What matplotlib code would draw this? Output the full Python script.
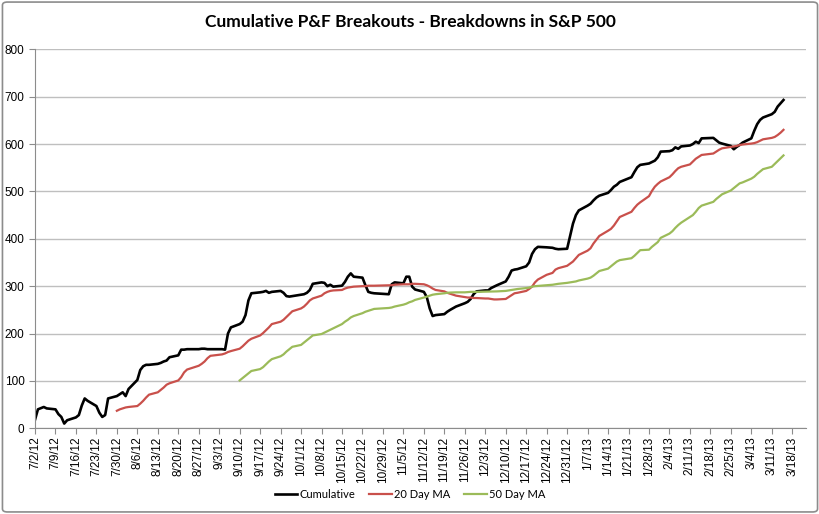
import matplotlib
matplotlib.use("Agg")
import matplotlib.pyplot as plt
from matplotlib.patches import FancyBboxPatch
from matplotlib.ticker import FuncFormatter
import matplotlib.dates as mdates
import pandas as pd

# trading days shown on the chart, by month
months = [
    (2012, 7, [2, 3, 5, 6, 9, 10, 11, 12, 13, 16, 17, 18, 19, 20, 23, 24, 25, 26, 27, 30, 31]),
    (2012, 8, [1, 2, 3, 6, 7, 8, 9, 10, 13, 14, 15, 16, 17, 20, 21, 22, 23, 24, 27, 28, 29, 30, 31]),
    (2012, 9, [4, 5, 6, 7, 10, 11, 12, 13, 14, 17, 18, 19, 20, 21, 24, 25, 26, 27, 28]),
    (2012, 10, [1, 2, 3, 4, 5, 8, 9, 10, 11, 12, 15, 16, 17, 18, 19, 22, 23, 24, 25, 26, 31]),
    (2012, 11, [1, 2, 5, 6, 7, 8, 9, 12, 13, 14, 15, 16, 19, 20, 21, 23, 26, 27, 28, 29, 30]),
    (2012, 12, [3, 4, 5, 6, 7, 10, 11, 12, 13, 14, 17, 18, 19, 20, 21, 24, 26, 27, 28, 31]),
    (2013, 1, [2, 3, 4, 7, 8, 9, 10, 11, 14, 15, 16, 17, 18, 22, 23, 24, 25, 28, 29, 30, 31]),
    (2013, 2, [1, 4, 5, 6, 7, 8, 11, 12, 13, 14, 15, 19, 20, 21, 22, 25, 26, 27, 28]),
    (2013, 3, [1, 4, 5, 6, 7, 8, 11, 12, 13, 14, 15]),
]
dates = [pd.Timestamp(y, m, d) for y, m, days in months for d in days]

cumulative = [
    18, 40, 45, 42, 40, 30, 24, 10, 17, 23, 28, 48, 63, 58, 47, 33, 24, 28, 63, 68, 72,
    76, 68, 83, 102, 123, 131, 134, 134, 136, 138, 141, 143, 150, 154, 166, 166, 167, 167, 167, 168, 168, 167, 167,
    167, 166, 200, 213, 220, 225, 239, 270, 285, 287, 288, 290, 286, 288, 290, 286, 279, 278, 279,
    282, 283, 286, 292, 305, 308, 307, 300, 303, 299, 301, 309, 320, 327, 320, 318, 302, 288, 286, 285, 283,
    304, 308, 306, 320, 320, 299, 293, 288, 277, 253, 237, 239, 241, 246, 250, 257, 264, 267, 273, 283, 289,
    291, 291, 296, 299, 302, 310, 320, 333, 335, 336, 342, 350, 368, 378, 383, 382, 381, 379, 378, 379,
    432, 450, 460, 470, 474, 481, 487, 491, 497, 503, 510, 514, 520, 530, 541, 551, 556, 559, 562, 565, 572,
    584, 585, 587, 593, 590, 595, 597, 600, 605, 602, 612, 613, 608, 603, 601, 596, 589, 594, 598,
    603, 612, 628, 642, 651, 656, 663, 668, 679, 686, 693,
]

# 20 day MA starts 7/30/12
ma20 = [
    37, 40,
    42, 44, 45, 47, 52, 58, 65, 71, 76, 81, 86, 92, 95, 101, 108, 118, 124, 126, 132, 136, 141, 148, 153,
    156, 158, 161, 163, 168, 173, 179, 185, 189, 196, 201, 207, 213, 220, 225, 229, 235, 241, 247,
    253, 257, 263, 270, 274, 280, 285, 288, 290, 291, 292, 295, 297, 298, 299, 300, 300, 301, 301, 301, 302,
    302, 303, 304, 304, 304, 305, 305, 304, 302, 299, 295, 292, 289, 286, 284, 280, 277, 276, 276, 275, 275,
    274, 274, 273, 272, 272, 273, 277, 281, 285, 286, 290, 294, 299, 308, 314, 324, 328, 335, 338, 343,
    352, 359, 366, 375, 380, 390, 398, 406, 417, 421, 428, 437, 446, 457, 465, 472, 477, 490, 501, 510, 516,
    521, 530, 536, 543, 549, 552, 557, 563, 569, 573, 577, 580, 584, 588, 591, 594, 595, 596, 598,
    599, 601, 602, 604, 607, 610, 613, 615, 619, 624, 630,
]

# 50 day MA starts 9/10/12
ma50 = [
    101, 106, 111, 116, 121, 125, 129, 135, 141, 146, 152, 156, 162, 167, 172,
    176, 181, 186, 191, 196, 199, 202, 205, 208, 211, 220, 225, 229, 234, 237, 243, 246, 248, 250, 252, 254,
    255, 257, 261, 263, 266, 268, 271, 276, 278, 280, 282, 283, 285, 286, 286.5, 287, 287, 287.5, 288, 288, 288,
    288.5, 288.5, 289, 289, 289, 290, 291, 292, 293, 294, 296, 297, 299, 300, 300.5, 302, 303, 304, 305, 307,
    309, 310, 312, 316, 318, 322, 327, 332, 337, 342, 347, 352, 355, 359, 364, 370, 376, 377, 383, 388, 393,
    402, 411, 416, 423, 429, 434, 446, 450, 457, 465, 470, 478, 484, 489, 494, 502, 507, 512, 517,
    519, 527, 531, 537, 542, 547, 552, 558, 564, 570, 576,
]

tick_dates = pd.date_range("2012-07-02", "2013-03-18", freq="7D")

title = "Cumulative P&F Breakouts - Breakdowns in S&P 500"
labels = ["Cumulative", "20 Day MA", "50 Day MA"]
colors = ["#000000", "#C9504B", "#9BBB59"]

txt_font = ["Lato", "DejaVu Sans"]
tick_font = ["Liberation Sans Narrow", "Liberation Sans", "DejaVu Sans"]

fig = plt.figure(figsize=(8.2, 5.14), dpi=100)
ax = fig.add_axes([35 / 820, 1 - 428.3 / 514, (806 - 35) / 820, (428.3 - 49.3) / 514])

# chart border
fig.patches.append(FancyBboxPatch((0.003, 0.004), 0.994, 0.992, boxstyle="round,pad=0,rounding_size=0.006",
                                  transform=fig.transFigure, fill=False, edgecolor="#8c8c8c", linewidth=1.2))

ax.plot(dates, cumulative, color=colors[0], lw=1.9, label=labels[0], solid_joinstyle="round")
ax.plot(dates[19:], ma20, color=colors[1], lw=1.6, label=labels[1])
ax.plot(dates[48:], ma50, color=colors[2], lw=1.6, label=labels[2])

ax.set_ylim(0, 800)
ax.set_yticks(range(0, 801, 100))
x0 = mdates.date2num(pd.Timestamp("2012-07-02"))
ax.set_xlim(x0, x0 + 263.7)
ax.set_xticks(tick_dates)
ax.xaxis.set_major_formatter(FuncFormatter(
    lambda v, p: "%d/%d/%d" % (mdates.num2date(v).month, mdates.num2date(v).day, mdates.num2date(v).year % 100)))

ax.grid(axis="y", color="#bfbfbf", lw=1)
ax.set_axisbelow(True)
for s in ["top", "right"]:
    ax.spines[s].set_visible(False)
for s in ["left", "bottom"]:
    ax.spines[s].set_color("#8c8c8c")
ax.tick_params(axis="both", direction="out", length=4, color="#8c8c8c", labelsize=8.5)
ax.tick_params(axis="x", rotation=90, pad=2)
for lab in ax.get_xticklabels() + ax.get_yticklabels():
    lab.set_family(tick_font)

fig.text(0.5, 1 - 22 / 514, title, ha="center", va="center", fontsize=12.5, fontweight="bold", family=txt_font)

leg = fig.legend(loc="center", bbox_to_anchor=(0.5, 1 - 494 / 514), ncol=3, frameon=False,
                 prop={"family": txt_font, "size": 8}, handlelength=2.0, handletextpad=0.2, columnspacing=1.3)

fig.savefig("out.png", dpi=100)
